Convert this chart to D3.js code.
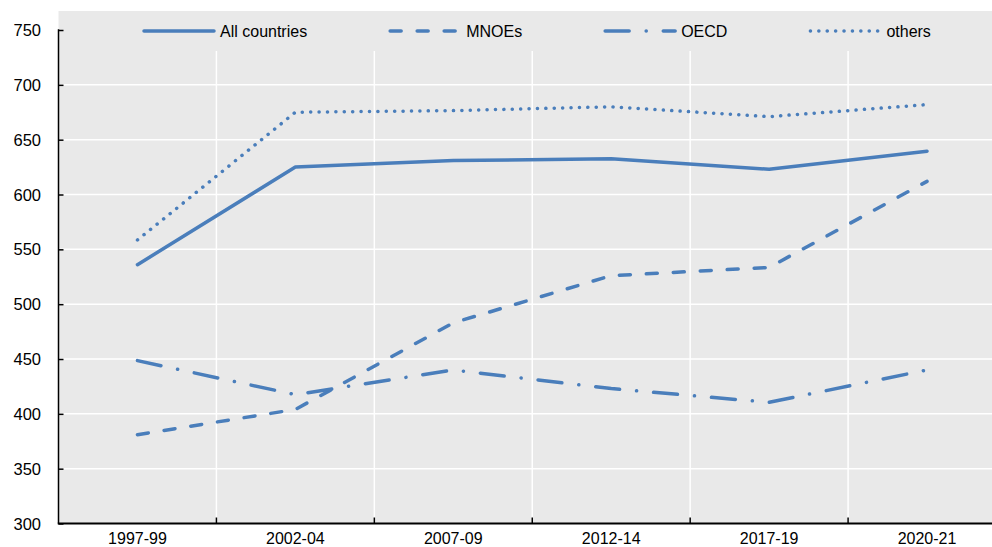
<!DOCTYPE html>
<html>
<head>
<meta charset="utf-8">
<script src="https://cdn.jsdelivr.net/npm/d3@7"></script>
<style>
  html, body { margin: 0; padding: 0; background: #fff; }
  svg { display: block; font-family: Arial, "Liberation Sans", sans-serif; }
</style>
</head>
<body>
<div id="drawing-area"></div>
<script>
var periods = ['1997-99', '2002-04', '2007-09', '2012-14', '2017-19', '2020-21'];
var allCountries = [536, 625, 631, 632.5, 623, 639.5];
var mnoes = [381, 404, 483, 526, 533.5, 612];
var oecd = [448.5, 417.5, 440, 423, 410.5, 440];
var others = [558.5, 675, 676.5, 680, 671, 682];
var yTicks = [300, 350, 400, 450, 500, 550, 600, 650, 700, 750];
var seriesNames = ['All countries', 'MNOEs', 'OECD', 'others'];

(function () {
  var width = 992, height = 547;
  var left = 58.5, bottom = 523.5, top = 30;
  var blue = '#4a7ebb';
  var dashes = {
    'All countries': null,
    'MNOEs': '11,16',
    'OECD': '24,17,0.1,17',
    'others': '0.1,8.3'
  };
  var values = {
    'All countries': allCountries,
    'MNOEs': mnoes,
    'OECD': oecd,
    'others': others
  };

  var svg = d3.select('#drawing-area').append('svg')
    .attr('width', width)
    .attr('height', height);

  // band ends past the right edge of the picture, it gets clipped
  var x = d3.scaleBand().domain(periods).range([left, 1006]).padding(0);
  var y = d3.scaleLinear().domain([300, 750]).range([bottom, top]);

  svg.append('rect')
    .attr('x', left).attr('y', 11)
    .attr('width', width - left).attr('height', bottom - 11)
    .attr('fill', '#e9e9e9');

  // horizontal grid
  svg.append('g').selectAll('line')
    .data(yTicks.filter(function(d) { return d > 300 && d < 750; }))
    .enter().append('line')
    .attr('x1', left).attr('x2', width)
    .attr('y1', function(d) { return y(d); })
    .attr('y2', function(d) { return y(d); })
    .attr('stroke', '#fff').attr('stroke-width', 1.5);

  // vertical grid at band boundaries
  var bounds = periods.slice(1);
  svg.append('g').selectAll('line')
    .data(bounds)
    .enter().append('line')
    .attr('x1', function(d) { return x(d); })
    .attr('x2', function(d) { return x(d); })
    .attr('y1', 51).attr('y2', bottom)
    .attr('stroke', '#fff').attr('stroke-width', 1.5);

  // axes
  var yAxis = svg.append('g').attr('transform', 'translate(' + left + ',0)')
    .call(d3.axisRight(y).tickValues(yTicks).tickSize(5).tickFormat(''));
  yAxis.select('.domain').remove();
  yAxis.selectAll('line').attr('stroke', '#000').attr('stroke-width', 1.5);
  svg.append('line')
    .attr('x1', left).attr('x2', left).attr('y1', top - 0.75).attr('y2', bottom)
    .attr('stroke', '#000').attr('stroke-width', 1.5);

  svg.append('g').selectAll('text')
    .data(yTicks)
    .enter().append('text')
    .attr('x', 41)
    .attr('y', function(d) { return y(d) + 6; })
    .attr('text-anchor', 'end')
    .attr('font-size', 16.5)
    .attr('fill', '#000')
    .text(function(d) { return d; });

  svg.append('g').selectAll('line')
    .data(bounds)
    .enter().append('line')
    .attr('x1', function(d) { return x(d); })
    .attr('x2', function(d) { return x(d); })
    .attr('y1', bottom - 6).attr('y2', bottom)
    .attr('stroke', '#000').attr('stroke-width', 1.5);
  svg.append('line')
    .attr('x1', left - 0.75).attr('x2', width).attr('y1', bottom).attr('y2', bottom)
    .attr('stroke', '#000').attr('stroke-width', 2);

  svg.append('g').selectAll('text')
    .data(periods)
    .enter().append('text')
    .attr('x', function(d) { return x(d) + x.bandwidth() / 2; })
    .attr('y', 543.5)
    .attr('text-anchor', 'middle')
    .attr('font-size', 16)
    .attr('fill', '#000')
    .text(function(d) { return d; });

  // series lines
  var line = d3.line()
    .x(function(d, i) { return x(periods[i]) + x.bandwidth() / 2; })
    .y(function(d) { return y(d); });

  seriesNames.forEach(function(name) {
    svg.append('path')
      .datum(values[name])
      .attr('d', line)
      .attr('fill', 'none')
      .attr('stroke', blue)
      .attr('stroke-width', 3.5)
      .attr('stroke-linecap', 'round')
      .attr('stroke-linejoin', 'round')
      .attr('stroke-dasharray', dashes[name]);
  });

  // legend
  var legend = svg.append('g');
  var lx = 144, ly = 31;
  seriesNames.forEach(function(name) {
    legend.append('line')
      .attr('x1', lx).attr('x2', lx + 70)
      .attr('y1', ly).attr('y2', ly)
      .attr('stroke', blue)
      .attr('stroke-width', 3.5)
      .attr('stroke-linecap', 'round')
      .attr('stroke-dasharray', dashes[name]);
    var t = legend.append('text')
      .attr('x', lx + 76).attr('y', ly + 6)
      .attr('font-size', 16)
      .attr('fill', '#000')
      .text(name);
    lx = lx + 76 + t.node().getComputedTextLength() + 83;
  });
})();
</script>
</body>
</html>
